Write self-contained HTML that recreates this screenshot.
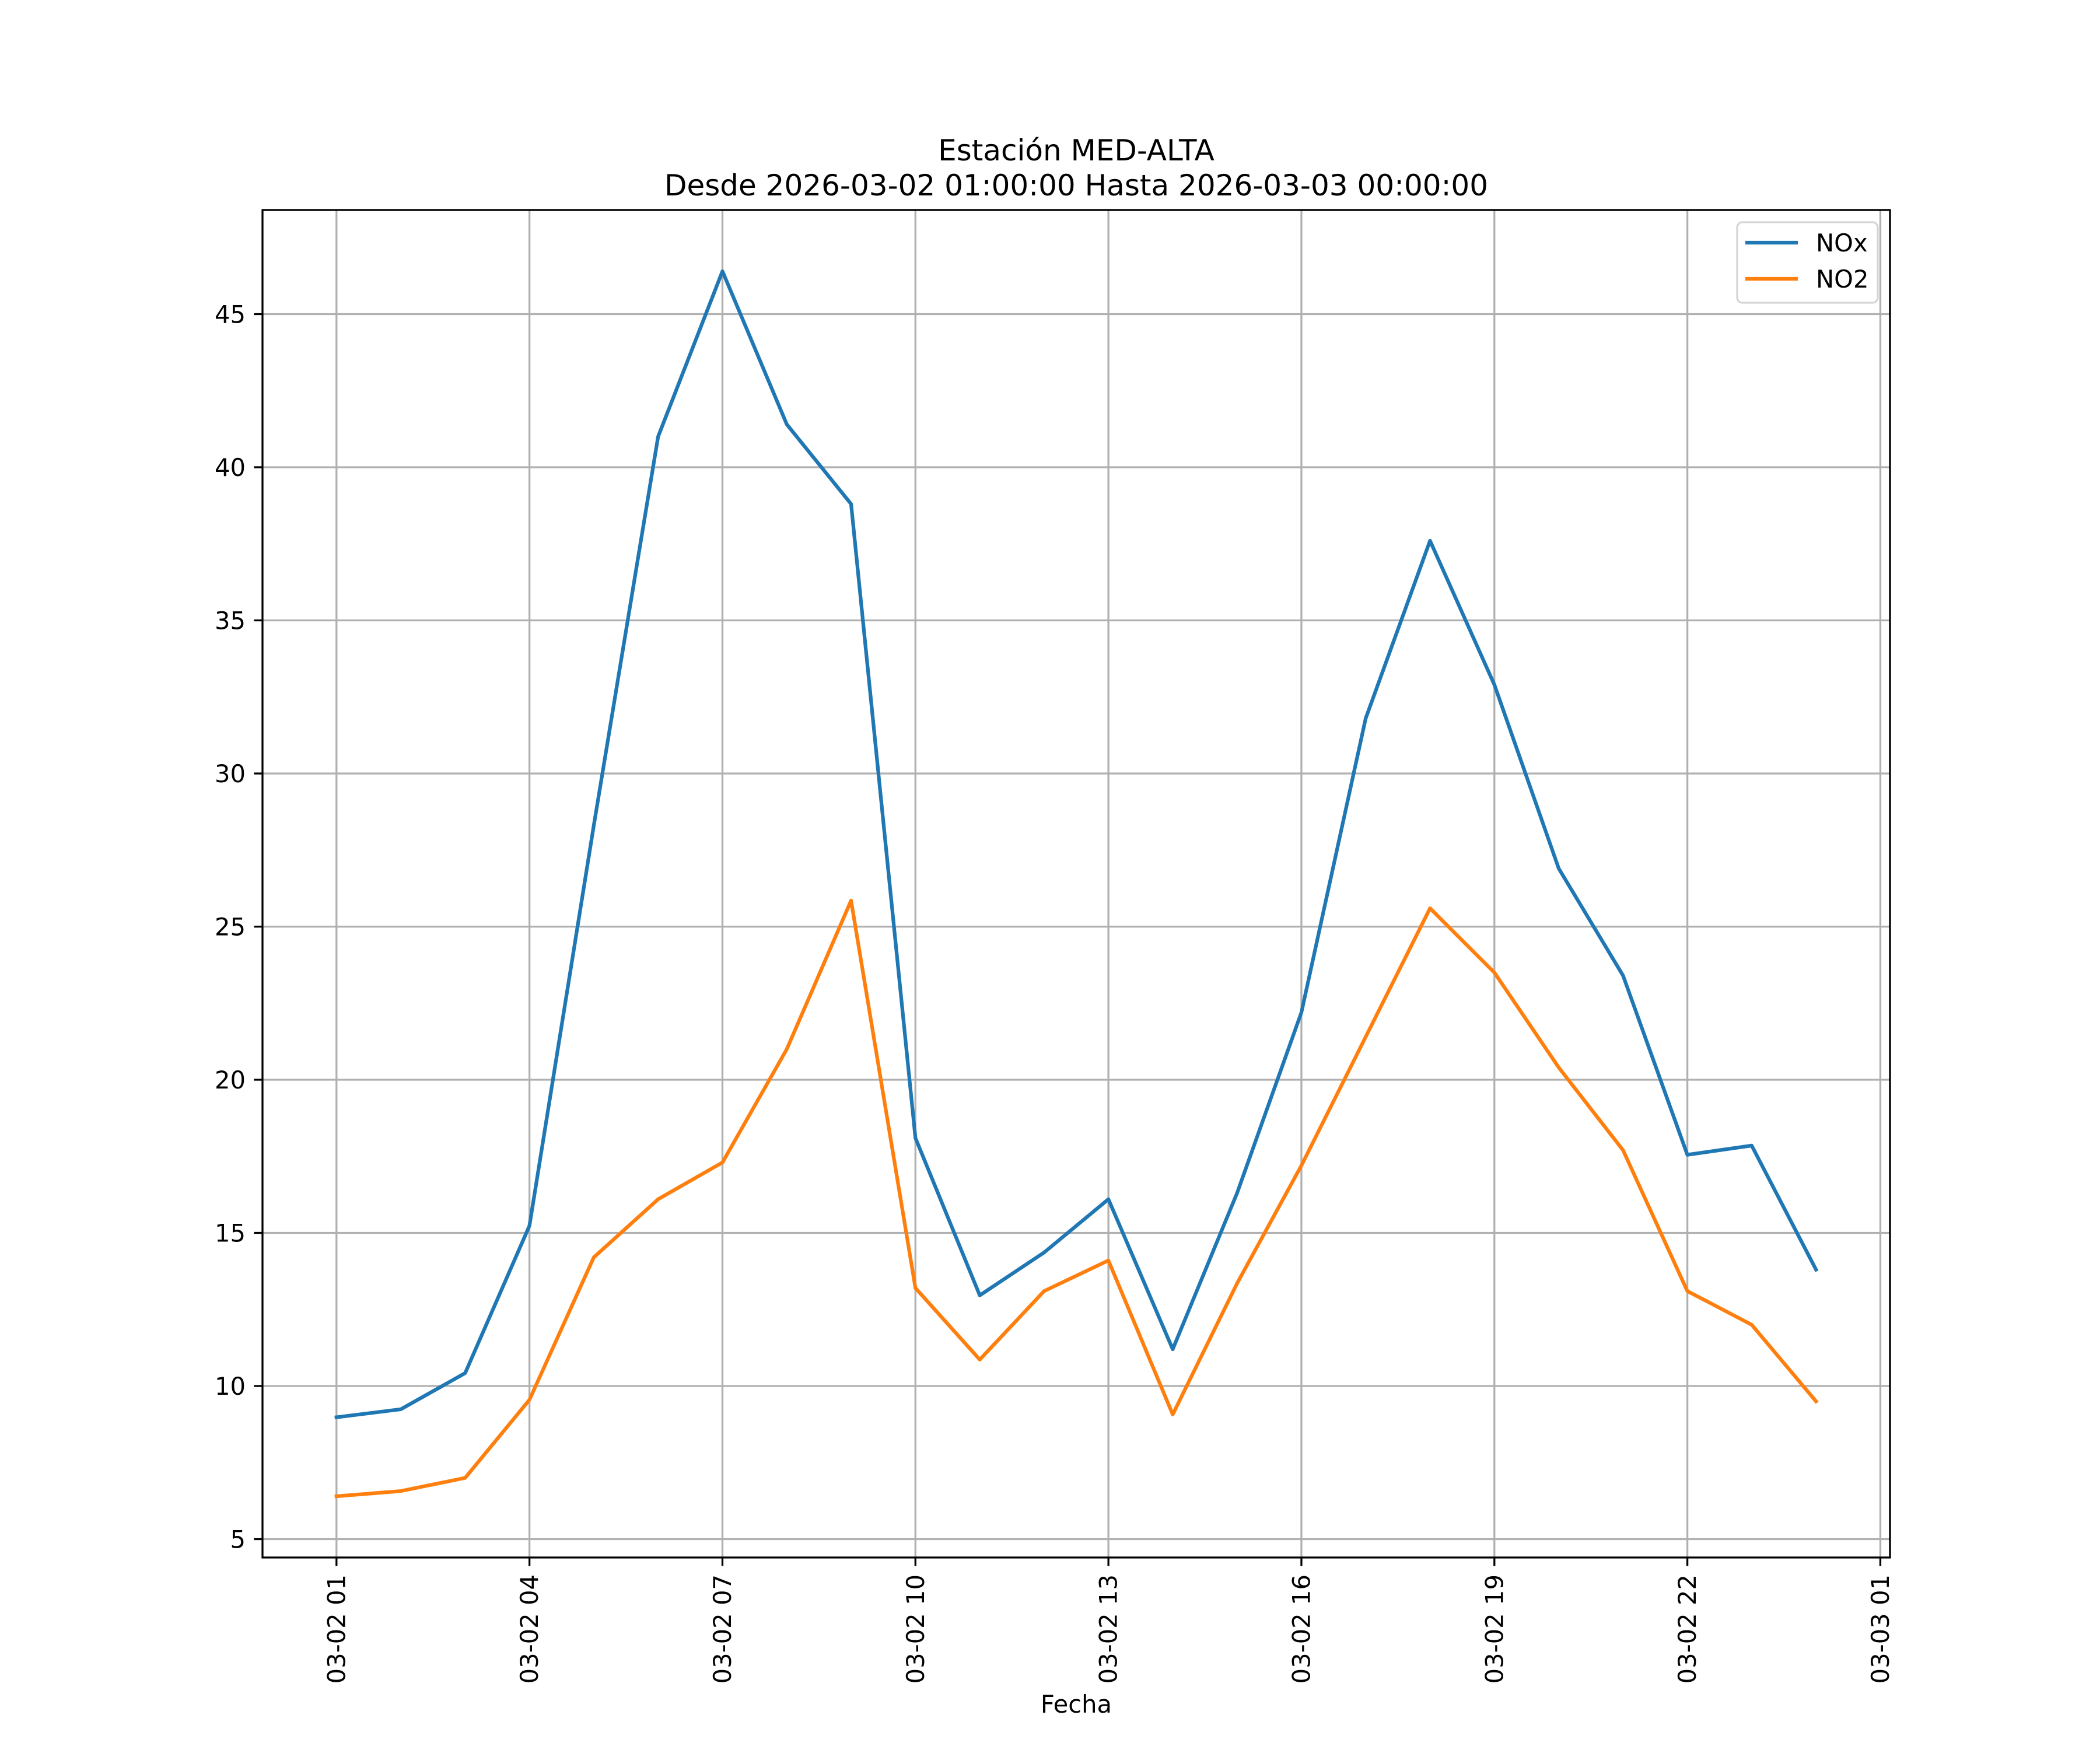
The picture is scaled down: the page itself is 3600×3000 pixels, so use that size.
<!DOCTYPE html>
<html><head><meta charset="utf-8"><style>html,body{margin:0;padding:0;background:#fff}svg{display:block}text{font-family:"DejaVu Sans","Liberation Sans",sans-serif;fill:#000}</style></head>
<body>
<svg id="chart" width="3600" height="3000" viewBox="0 0 3600 3000" xmlns="http://www.w3.org/2000/svg">
<rect width="3600" height="3000" fill="#fff"/>
<g id="grid"></g>
<g id="series"></g>
<rect x="450" y="360" width="2790" height="2310" fill="none" stroke="#000" stroke-width="3.3"/>
<g id="ticks"></g>
<text x="1845" y="275" font-size="50" text-anchor="middle">Estación MED-ALTA</text>
<text x="1845" y="335" font-size="50" text-anchor="middle">Desde 2026-03-02 01:00:00 Hasta 2026-03-03 00:00:00</text>
<text x="1845" y="2936" font-size="41.7" text-anchor="middle">Fecha</text>
<g>
<rect x="2978" y="381" width="241" height="138" rx="9" fill="#fff" fill-opacity="0.8" stroke="#d5d5d5" stroke-width="3.3"/>
<line x1="2992" y1="416" x2="3082" y2="416" stroke="#1f77b4" stroke-width="6.25"/>
<text x="3113" y="431" font-size="41.7">NOx</text>
<line x1="2992" y1="478" x2="3082" y2="478" stroke="#ff7f0e" stroke-width="6.25"/>
<text x="3113" y="493" font-size="41.7">NO2</text>
</g>
</svg>
<script>
const hours = [0,1,2,3,4,5,6,7,8,9,10,11,12,13,14,15,16,17,18,19,20,21,22,23];
const noxValues = [8.98,9.24,10.42,15.23,28.3,41.0,46.4,41.4,38.8,18.1,12.96,14.36,16.1,11.2,16.3,22.2,31.8,37.6,32.9,26.9,23.4,17.55,17.85,13.8];
const no2Values = [6.4,6.57,7.0,9.55,14.2,16.1,17.3,21.0,25.85,13.2,10.86,13.1,14.1,9.07,13.35,17.2,21.4,25.6,23.5,20.4,17.7,13.1,12.0,9.5];
const xTickHours = [0,3,6,9,12,15,18,21,24];
const xTickLabels = ["03-02 01","03-02 04","03-02 07","03-02 10","03-02 13","03-02 16","03-02 19","03-02 22","03-03 01"];
const yTickValues = [5,10,15,20,25,30,35,40,45];

const NS = "http://www.w3.org/2000/svg";
const L=450,R=3240,T=360,B=2670;
const allV = noxValues.concat(no2Values);
const vmin=Math.min(...allV), vmax=Math.max(...allV);
const ymin=vmin-(vmax-vmin)*0.05, ymax=vmax+(vmax-vmin)*0.05;
const hmin=hours[0], hmax=hours[hours.length-1];
const xmin=hmin-(hmax-hmin)*0.05, xmax=hmax+(hmax-hmin)*0.05;
function xs(h){return L+(h-xmin)/(xmax-xmin)*(R-L);}
function ys(v){return B-(v-ymin)/(ymax-ymin)*(B-T);}
function mk(tag,attrs,parent){const e=document.createElementNS(NS,tag);for(const k in attrs)e.setAttribute(k,attrs[k]);parent.appendChild(e);return e;}
const grid=document.getElementById('grid'),ticks=document.getElementById('ticks'),series=document.getElementById('series');
xTickHours.forEach((h,i)=>{
  const x=xs(h);
  const g=mk('line',{x1:x,y1:T,x2:x,y2:B,stroke:'#b0b0b0','stroke-width':3.3},grid);
  
  
  const t=mk('line',{x1:x,y1:B,x2:x,y2:B+14.6,stroke:'#000','stroke-width':3.3},ticks);
  
  
  const tx=mk('text',{x:0,y:0,'font-size':41.7,'text-anchor':'end','dominant-baseline':'central',transform:'translate('+x+','+(B+29)+') rotate(-90)'},ticks);
  tx.textContent=xTickLabels[i];
  
  
});
yTickValues.forEach(v=>{
  const y=ys(v);
  const g=mk('line',{x1:L,y1:y,x2:R,y2:y,stroke:'#b0b0b0','stroke-width':3.3},grid);
  
  
  const t=mk('line',{x1:L-14.6,y1:y,x2:L,y2:y,stroke:'#000','stroke-width':3.3},ticks);
  
  
  const tx=mk('text',{x:L-29,y:y+15,'font-size':41.7,'text-anchor':'end'},ticks);
  tx.textContent=String(v);
  
  
});
function drawLine(vals,color,name){
  const pts=vals.map((v,i)=>xs(hours[i]).toFixed(1)+','+ys(v).toFixed(1)).join(' ');
  const p=mk('polyline',{points:pts,fill:'none',stroke:color,'stroke-width':6.25,'stroke-linejoin':'round','stroke-linecap':'square'},series);
  
  
}
drawLine(noxValues,'#1f77b4','nox-line');
drawLine(no2Values,'#ff7f0e','no2-line');
</script>
</body></html>
